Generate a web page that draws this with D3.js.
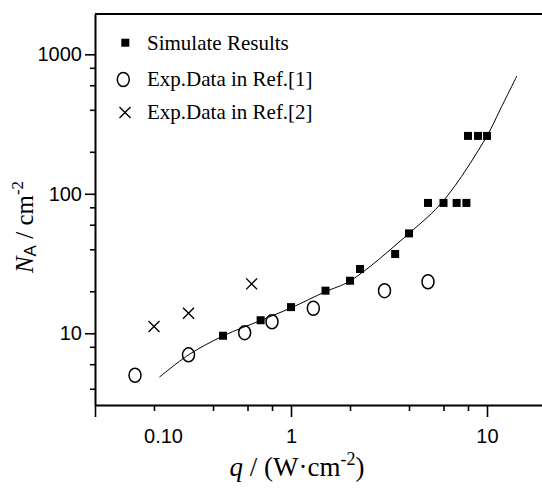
<!DOCTYPE html>
<html>
<head>
<meta charset="utf-8">
<script src="https://cdn.jsdelivr.net/npm/d3@7"></script>
<style>
  body { margin: 0; background: #fff; }
  svg { display: block; }
</style>
</head>
<body>
<svg id="chart" width="542" height="491"></svg>
<script>
// Simulated nucleation-site density vs. heat flux
const simQ = [0.45, 0.70, 1.0, 1.5, 2.0, 2.25, 3.4, 4.0, 5.0, 6.0, 7.0, 7.85, 8.0, 9.0, 10.0];
const simN = [9.6, 12.4, 15.4, 20.2, 23.8, 28.9, 37, 52, 86, 86, 86, 86, 260, 260, 260];

// Experimental data, Ref. [1]
const ref1Q = [0.16, 0.30, 0.58, 0.80, 1.3, 3.0, 5.0];
const ref1N = [5.0, 7.0, 10.1, 12.1, 15.1, 20.2, 23.4];

// Experimental data, Ref. [2]
const ref2Q = [0.20, 0.30, 0.63];
const ref2N = [11.2, 13.9, 22.6];

// Fitted trend curve
const fitQ = [0.213, 0.30, 0.45, 0.70, 1.0, 1.5, 2.0, 4.0, 6.03, 10.0, 11.65, 14.2];
const fitN = [4.84, 7.0, 9.56, 12.35, 15.2, 19.9, 23.7, 52, 90, 260, 399, 699];

// Axis ticks
const xMajor = [0.1, 1, 10];
const xMajorLabels = ["0.10", "1", "10"];
const xMinor = [0.2, 0.4, 0.6, 0.8, 2, 4, 6, 8];
const yMajor = [10, 100, 1000];
const yMajorLabels = ["10", "100", "1000"];
const yMinor = [4, 6, 8, 20, 40, 60, 80, 200, 400, 600, 800];

const legendLabels = ["Simulate Results", "Exp.Data in Ref.[1]", "Exp.Data in Ref.[2]"];

const SANS = "'Liberation Sans', Arial, Helvetica, sans-serif";
const SERIF = "'Liberation Serif', 'Times New Roman', Times, serif";

const svg = d3.select("#chart");
svg.append("rect").attr("width", 542).attr("height", 491).attr("fill", "#fff");

const x = d3.scaleLog().domain([0.1, 20]).range([95, 546]);
const y = d3.scaleLog().domain([3.06, 1945]).range([405, 14]);

const [x0, x1] = x.range();
const [yb, yt] = y.range();

// Top frame line
svg.append("line")
  .attr("x1", x0).attr("x2", x1)
  .attr("y1", yt).attr("y2", yt)
  .attr("stroke", "#000").attr("stroke-width", 2);

// X axis: minor ticks
svg.append("g")
  .attr("transform", `translate(0,${yb})`)
  .call(d3.axisBottom(x).tickValues(xMinor).tickSize(6).tickFormat(""))
  .call(g => g.select(".domain").remove())
  .call(g => g.selectAll(".tick line").attr("stroke-width", 1.6));

// X axis: major ticks and labels
const gx = svg.append("g")
  .attr("transform", `translate(0,${yb})`)
  .call(d3.axisBottom(x).tickValues(xMajor).tickSize(12).tickSizeOuter(0)
    .tickPadding(12).tickFormat((d, i) => xMajorLabels[i]));
gx.select(".domain").attr("stroke-width", 2);
gx.selectAll(".tick line").attr("stroke-width", 1.6);
gx.selectAll(".tick text")
  .attr("font-family", SANS).attr("font-size", 20).attr("fill", "#000");
gx.selectAll(".tick text").filter(d => d === 0.1).attr("dx", 68);

// Y axis: minor ticks
svg.append("g")
  .attr("transform", `translate(${x0},0)`)
  .call(d3.axisLeft(y).tickValues(yMinor).tickSize(5).tickFormat(""))
  .call(g => g.select(".domain").remove())
  .call(g => g.selectAll(".tick line").attr("stroke-width", 1.6));

// Y axis: major ticks and labels
const gy = svg.append("g")
  .attr("transform", `translate(${x0},0)`)
  .call(d3.axisLeft(y).tickValues(yMajor).tickSize(10).tickSizeOuter(0)
    .tickPadding(3).tickFormat((d, i) => yMajorLabels[i]));
gy.select(".domain").attr("stroke-width", 2);
gy.selectAll(".tick line").attr("stroke-width", 1.6);
gy.selectAll(".tick text")
  .attr("font-family", SANS).attr("font-size", 20).attr("fill", "#000");

// Trend curve
const fitPts = fitQ.map((q, i) => [x(q), y(fitN[i])]);
svg.append("path")
  .attr("d", d3.line().curve(d3.curveCatmullRom.alpha(0.5))(fitPts))
  .attr("fill", "none").attr("stroke", "#000").attr("stroke-width", 1);

// Marker drawing helpers
function drawSquare(g, cx, cy) {
  g.append("rect").attr("x", cx - 4).attr("y", cy - 4)
    .attr("width", 8).attr("height", 8).attr("fill", "#000");
}
function drawCircle(g, cx, cy) {
  g.append("ellipse").attr("cx", cx).attr("cy", cy)
    .attr("rx", 6).attr("ry", 7)
    .attr("fill", "none").attr("stroke", "#000").attr("stroke-width", 1.5);
}
function drawCross(g, cx, cy) {
  const s = 5.5;
  g.append("path")
    .attr("d", `M${cx - s},${cy - s}L${cx + s},${cy + s}M${cx - s},${cy + s}L${cx + s},${cy - s}`)
    .attr("fill", "none").attr("stroke", "#000").attr("stroke-width", 1.4);
}

const marks = svg.append("g");
simQ.forEach((q, i) => drawSquare(marks, x(q), y(simN[i])));
ref1Q.forEach((q, i) => drawCircle(marks, x(q), y(ref1N[i])));
ref2Q.forEach((q, i) => drawCross(marks, x(q), y(ref2N[i])));

// Legend
const legend = svg.append("g");
const legendMarkers = [drawSquare, drawCircle, drawCross];
const legendMarkerX = [125.3, 123.3, 125];
const legendRowY = [42.7, 79.5, 112.5];
legendLabels.forEach((label, i) => {
  legendMarkers[i](legend, legendMarkerX[i], legendRowY[i]);
  legend.append("text")
    .attr("x", 147).attr("y", legendRowY[i] + 6.8)
    .attr("font-family", SERIF).attr("font-size", 21).attr("fill", "#000")
    .text(label);
});

// X axis title: q / (W·cm^-2)
const xt = svg.append("text")
  .attr("x", 297).attr("y", 476)
  .attr("text-anchor", "middle")
  .attr("font-family", SERIF).attr("font-size", 27).attr("fill", "#000");
xt.append("tspan").attr("font-style", "italic").text("q");
xt.append("tspan").text(" / (W\u00B7cm");
xt.append("tspan").attr("font-size", 18).attr("dy", -11).text("-2");
xt.append("tspan").attr("dy", 11).text(")");

// Y axis title: N_A / cm^-2
const yTitle = svg.append("text")
  .attr("transform", "translate(33,227) rotate(-90)")
  .attr("text-anchor", "middle")
  .attr("font-family", SERIF).attr("font-size", 25).attr("fill", "#000");
yTitle.append("tspan").attr("font-style", "italic").text("N");
yTitle.append("tspan").attr("font-size", 17).attr("dy", 3).attr("font-family", SANS).text("A");
yTitle.append("tspan").attr("dy", -3).text(" / cm");
yTitle.append("tspan").attr("font-size", 17).attr("dy", -10).text("-2");
</script>
</body>
</html>
